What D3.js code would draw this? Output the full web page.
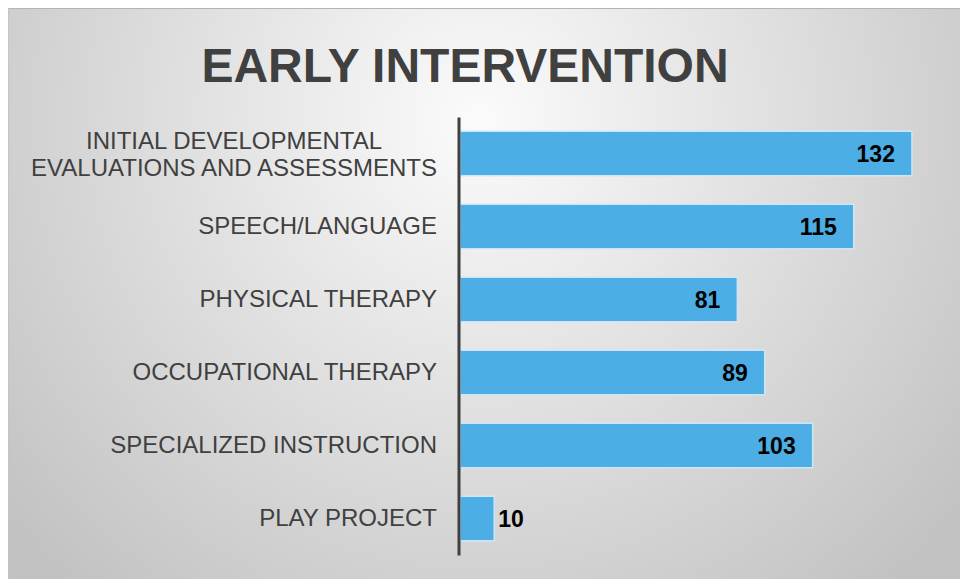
<!DOCTYPE html>
<html>
<head>
<meta charset="utf-8">
<script src="https://cdn.jsdelivr.net/npm/d3@7"></script>
<style>
  body { margin: 0; background: #fff; }
  svg { display: block; font-family: "Liberation Sans", Arial, sans-serif; }
</style>
</head>
<body>
<div class="chart"></div>
<script>
// chart data
var categories = [
  "INITIAL DEVELOPMENTAL\nEVALUATIONS AND ASSESSMENTS",
  "SPEECH/LANGUAGE",
  "PHYSICAL THERAPY",
  "OCCUPATIONAL THERAPY",
  "SPECIALIZED INSTRUCTION",
  "PLAY PROJECT"
];
var values = [132, 115, 81, 89, 103, 10];
var title = "EARLY INTERVENTION";

var W = 960, H = 579;
var axisX = 458.5;

var svg = d3.select(".chart").append("svg")
  .attr("width", W)
  .attr("height", H);

// background panel with a soft radial gradient
var grad = svg.append("defs").append("radialGradient")
  .attr("id", "bg")
  .attr("gradientUnits", "userSpaceOnUse")
  .attr("cx", 480).attr("cy", 120).attr("r", 620);
grad.append("stop").attr("offset", 0).attr("stop-color", "#fbfbfb");
grad.append("stop").attr("offset", 1).attr("stop-color", "#c2c2c2");

svg.append("rect")
  .attr("x", 8).attr("y", 8)
  .attr("width", W - 8).attr("height", H - 8)
  .attr("fill", "url(#bg)");
svg.append("line")
  .attr("x1", 8).attr("x2", W)
  .attr("y1", 8.5).attr("y2", 8.5)
  .attr("stroke", "#b4b4b4");
svg.append("line")
  .attr("x1", 8.5).attr("x2", 8.5)
  .attr("y1", 8).attr("y2", H)
  .attr("stroke", "#c4c4c4");

// title
svg.append("text")
  .attr("x", 465)
  .attr("y", 82)
  .attr("text-anchor", "middle")
  .attr("font-size", "48px")
  .attr("font-weight", "bold")
  .attr("fill", "#404040")
  .text(title);

// scales
var y = d3.scaleBand()
  .domain(categories)
  .range([117, 555])
  .paddingInner(0.39)
  .paddingOuter(0.195);

var x = d3.scaleLinear()
  .domain([0, 140])
  .range([460, 460 + 140 * 3.424]);

// bars
svg.selectAll(".bar")
  .data(values)
  .enter()
  .append("rect")
  .attr("class", "bar")
  .attr("x", x(0))
  .attr("y", (d, i) => y(categories[i]))
  .attr("width", d => x(d) - x(0))
  .attr("height", y.bandwidth())
  .attr("fill", "#4caee5")
  .attr("stroke", "#cde7f6")
  .attr("stroke-width", 1.5);

// value labels, inside end unless the bar is too short
svg.selectAll(".val")
  .data(values)
  .enter()
  .append("text")
  .attr("class", "val")
  .attr("font-size", "23px")
  .attr("font-weight", "bold")
  .attr("fill", "#000")
  .attr("dy", "0.36em")
  .attr("y", (d, i) => y(categories[i]) + y.bandwidth() / 2)
  .attr("x", d => (x(d) - x(0) > 70) ? x(d) - 17 : x(d) + 4)
  .attr("text-anchor", d => (x(d) - x(0) > 70) ? "end" : "start")
  .text(d => d);

// category axis
var yAxis = d3.axisLeft(y).tickSize(0).tickSizeOuter(0).tickPadding(21.5);
var gAxis = svg.append("g")
  .attr("transform", `translate(${axisX},0)`)
  .call(yAxis);

gAxis.select(".domain")
  .attr("stroke", "#404040")
  .attr("stroke-width", 3);

gAxis.selectAll(".tick text")
  .attr("font-size", "24px")
  .attr("font-family", "\"Liberation Sans\", Arial, sans-serif")
  .attr("fill", "#404040")
  .each(function (d) {
    var lines = d.split("\n");
    if (lines.length < 2) return;
    var t = d3.select(this).text(null).attr("dy", null);
    var spans = lines.map(function (l, i) {
      return t.append("tspan").text(l);
    });
    // centre the lines on each other, block right-aligned to the axis
    var maxW = d3.max(spans, s => s.node().getComputedTextLength());
    var cx = -21.5 - maxW / 2;
    var lh = 27;
    var top = -(lines.length - 1) * lh / 2;
    t.attr("text-anchor", "middle");
    spans.forEach(function (s, i) {
      s.attr("x", cx).attr("y", top + i * lh).attr("dy", "0.36em");
    });
  });
</script>
</body>
</html>
